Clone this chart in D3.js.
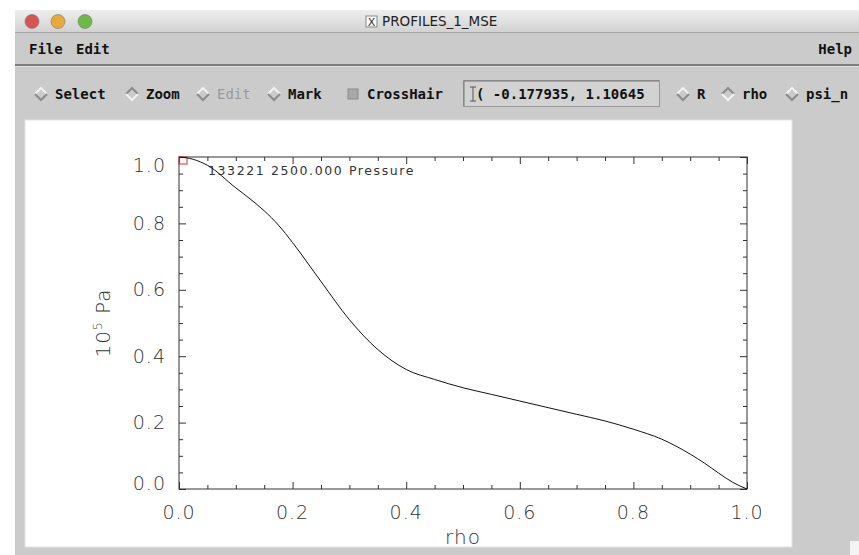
<!doctype html>
<html>
<head>
  <meta charset="utf8"/>
  <style>
    body { margin: 0; background: #fff; }
    svg { display: block; }
    .mono { font-family: 'DejaVu Sans Mono', monospace; font-weight: bold; font-size: 14px; fill: #111; }
    .plot text { font-family: 'DejaVu Sans', sans-serif; font-weight: 200; fill: #333; }
  </style>
</head>
<body>
  <svg width='859' height='555'></svg>
  <script src="https://d3js.org/d3.v7.min.js"></script>
  <script>

    // pressure profile
    var rho      = [0, 0.025, 0.05, 0.1, 0.125, 0.15, 0.175, 0.2, 0.25, 0.3, 0.35, 0.4, 0.45, 0.5, 0.55,
                    0.6, 0.65, 0.7, 0.75, 0.8, 0.85, 0.9, 0.925, 0.95, 0.975, 1.0];
    var pressure = [1.0, 0.993, 0.975, 0.907, 0.874, 0.838, 0.795, 0.742, 0.625, 0.51, 0.42, 0.36, 0.33, 0.305, 0.285,
                    0.265, 0.245, 0.225, 0.205, 0.18, 0.15, 0.105, 0.078, 0.048, 0.02, 0.0];
    var xTicks = [0, 0.2, 0.4, 0.6, 0.8, 1.0];
    var yTicks = [0, 0.2, 0.4, 0.6, 0.8, 1.0];
    var minorTicks = d3.range(0, 1.0001, 0.05);
    var plotTitle = '133221 2500.000 Pressure';
    var windowTitle = 'PROFILES_1_MSE';
    var menuLeft = ['File', 'Edit'];
    var toolItems = [
      {label: 'Select', kind: 'radio', x: 35},
      {label: 'Zoom', kind: 'radio', x: 126, on: true},
      {label: 'Edit', kind: 'radio', x: 197, off: true},
      {label: 'Mark', kind: 'radio', x: 268},
      {label: 'CrossHair', kind: 'check', x: 347},
      {label: 'R', kind: 'radio', x: 677},
      {label: 'rho', kind: 'radio', x: 722, on: true},
      {label: 'psi_n', kind: 'radio', x: 786}
    ];
    var cursorText = '( -0.177935, 1.10645';

    var svg = d3.select('svg');
    var grey = '#cbcbcb';

    // window chrome
    svg.append('rect').attr('x', 15).attr('y', 10).attr('width', 844).attr('height', 545).attr('fill', grey);
    var grad = svg.append('defs').append('linearGradient').attr('id', 'tb')
      .attr('x1', 0).attr('y1', 0).attr('x2', 0).attr('y2', 1);
    grad.append('stop').attr('offset', 0).attr('stop-color', '#eeeeee');
    grad.append('stop').attr('offset', 1).attr('stop-color', '#d2d2d2');
    svg.append('rect').attr('x', 15).attr('y', 10).attr('width', 844).attr('height', 22).attr('fill', 'url(#tb)');
    svg.append('line').attr('x1', 15).attr('x2', 859).attr('y1', 32.5).attr('y2', 32.5).attr('stroke', '#a5a5a5');

    var lights = [{x: 32, c: '#d9534f'}, {x: 58, c: '#e8a93a'}, {x: 85, c: '#6cbb45'}];
    svg.selectAll('.light').data(lights).enter().append('circle')
      .attr('cx', function(d) { return d.x; }).attr('cy', 21.5).attr('r', 7)
      .attr('fill', function(d) { return d.c; })
      .attr('stroke', '#777').attr('stroke-width', 0.6);

    svg.append('rect').attr('x', 366).attr('y', 16).attr('width', 11).attr('height', 11)
      .attr('fill', '#fafafa').attr('stroke', '#888');
    svg.append('text').attr('x', 371.5).attr('y', 25.5).attr('text-anchor', 'middle')
      .style('font', '11px "DejaVu Sans"').attr('fill', '#333').text('X');
    svg.append('text').attr('x', 382).attr('y', 26)
      .style('font', '13.5px "DejaVu Sans", sans-serif').attr('fill', '#222').text(windowTitle);

    // menu bar
    svg.selectAll('.menu').data(menuLeft).enter().append('text').attr('class', 'mono')
      .attr('x', function(d, i) { return 29 + i * 47; }).attr('y', 54).text(function(d) { return d; });
    svg.append('text').attr('class', 'mono').attr('x', 852).attr('y', 54).attr('text-anchor', 'end').text('Help');
    svg.append('rect').attr('x', 15).attr('y', 64).attr('width', 844).attr('height', 2).attr('fill', '#7d7d7d');
    svg.append('line').attr('x1', 15).attr('x2', 859).attr('y1', 66.5).attr('y2', 66.5).attr('stroke', '#e2e2e2');

    // toolbar
    var tool = svg.selectAll('.tool').data(toolItems).enter().append('g')
      .attr('transform', function(d) { return 'translate(' + d.x + ',94)'; });
    tool.filter(function(d) { return d.kind === 'radio'; }).each(function(d) {
      var g = d3.select(this);
      var hi = d.on ? '#8a8a8a' : '#f2f2f2', lo = d.on ? '#f2f2f2' : '#8a8a8a';
      g.append('path').attr('d', 'M0,0 L6,-6 L12,0').attr('fill', 'none').attr('stroke', hi).attr('stroke-width', 2);
      g.append('path').attr('d', 'M0,0 L6,6 L12,0').attr('fill', 'none').attr('stroke', lo).attr('stroke-width', 2);
    });
    tool.filter(function(d) { return d.kind === 'check'; }).append('rect')
      .attr('x', 1).attr('y', -5).attr('width', 10).attr('height', 10)
      .attr('fill', '#a9a9a9').attr('stroke', '#8a8a8a');
    tool.append('text').attr('class', 'mono').attr('x', 20).attr('y', 5)
      .style('fill', function(d) { return d.off ? '#9a9a9a' : '#111'; })
      .style('font-weight', function(d) { return d.off ? 'normal' : 'bold'; })
      .text(function(d) { return d.label; });

    svg.append('rect').attr('x', 463.5).attr('y', 80.5).attr('width', 196).attr('height', 26)
      .attr('fill', '#d2d2d2').attr('stroke', '#999');
    svg.append('path').attr('d', 'M464,106 L464,81 L659,81').attr('fill', 'none').attr('stroke', '#777');
    svg.append('path').attr('d', 'M470,87 L476,87 M473,87 L473,101 M470,101 L476,101')
      .attr('stroke', '#555').attr('stroke-width', 1);
    svg.append('text').attr('class', 'mono').attr('x', 476).attr('y', 99).text(cursorText);

    // drawing area
    svg.append('rect').attr('x', 25).attr('y', 120).attr('width', 767).attr('height', 427)
      .attr('fill', '#fff').attr('stroke', '#e4e4e4');
    svg.append('rect').attr('x', 850).attr('y', 541).attr('width', 9).attr('height', 14).attr('fill', '#f4f4f4');

    var plot = svg.append('g').attr('class', 'plot');
    var pLeft = 179, pRight = 747, pTop = 157, pBottom = 489;
    var x = d3.scaleLinear().domain([0, 1]).range([pLeft, pRight]);
    var y = d3.scaleLinear().domain([0, 1]).range([pBottom, pTop]);
    var fmt = d3.format('.1f');

    var minorOnly = minorTicks.filter(function(v) { return Math.round(v * 100) % 20 !== 0; });
    var axes = [
      {ax: function() { return d3.axisBottom(x); }, tx: 0, ty: pBottom},
      {ax: function() { return d3.axisTop(x); }, tx: 0, ty: pTop},
      {ax: function() { return d3.axisLeft(y); }, tx: pLeft, ty: 0},
      {ax: function() { return d3.axisRight(y); }, tx: pRight, ty: 0}
    ];
    axes.forEach(function(a) {
      [[xTicks, -7], [minorOnly, -4]].forEach(function(t) {
        var g = plot.append('g').call(a.ax().tickValues(t[0]).tickSize(t[1]).tickFormat(''))
          .attr('transform', 'translate(' + a.tx + ',' + a.ty + ')');
        g.select('.domain').remove();
        g.selectAll('line').attr('stroke', '#333');
      });
    });

    plot.append('rect').attr('x', pLeft).attr('y', pTop).attr('width', pRight - pLeft).attr('height', pBottom - pTop)
      .attr('fill', 'none').attr('stroke', '#333');

    // tick labels
    plot.selectAll('.xl').data(xTicks).enter().append('text')
      .attr('x', function(d) { return x(d); }).attr('y', 519)
      .attr('text-anchor', 'middle').style('font-size', '19px').style('letter-spacing', '1px')
      .text(fmt);
    plot.selectAll('.yl').data(yTicks).enter().append('text')
      .attr('x', 166).attr('y', function(d) { return Math.max(pTop + 8, Math.min(pBottom - 6, y(d))); })
      .attr('dy', '0.35em').attr('text-anchor', 'end').style('font-size', '19px').style('letter-spacing', '1px')
      .text(fmt);

    plot.append('text').attr('x', x(0.5)).attr('y', 544).attr('text-anchor', 'middle')
      .style('font-size', '20px').style('letter-spacing', '1px').text('rho');
    var yt = plot.append('text').attr('transform', 'translate(110,' + y(0.5) + ') rotate(-90)')
      .attr('text-anchor', 'middle').style('font-size', '20px').style('letter-spacing', '1px');
    yt.append('tspan').text('10');
    yt.append('tspan').attr('dy', -8).style('font-size', '12px').text('5');
    yt.append('tspan').attr('dy', 8).text(' Pa');

    plot.append('text').attr('x', 208).attr('y', 175)
      .style('font-size', '12.5px').style('font-weight', 'normal').style('letter-spacing', '1.6px').attr('fill', '#222')
      .text(plotTitle);

    // marker square at the first point
    plot.append('rect').attr('x', x(0)).attr('y', y(1)).attr('width', 8).attr('height', 7)
      .attr('fill', 'none').attr('stroke', '#e0302a');

    var line = d3.line()
      .x(function(d, i) { return x(rho[i]); })
      .y(function(d) { return y(d); })
      .curve(d3.curveMonotoneX);
    plot.append('path').datum(pressure)
      .attr('fill', 'none').attr('stroke', '#111').attr('stroke-width', 1)
      .attr('d', line);
  </script>
</body>
</html>
